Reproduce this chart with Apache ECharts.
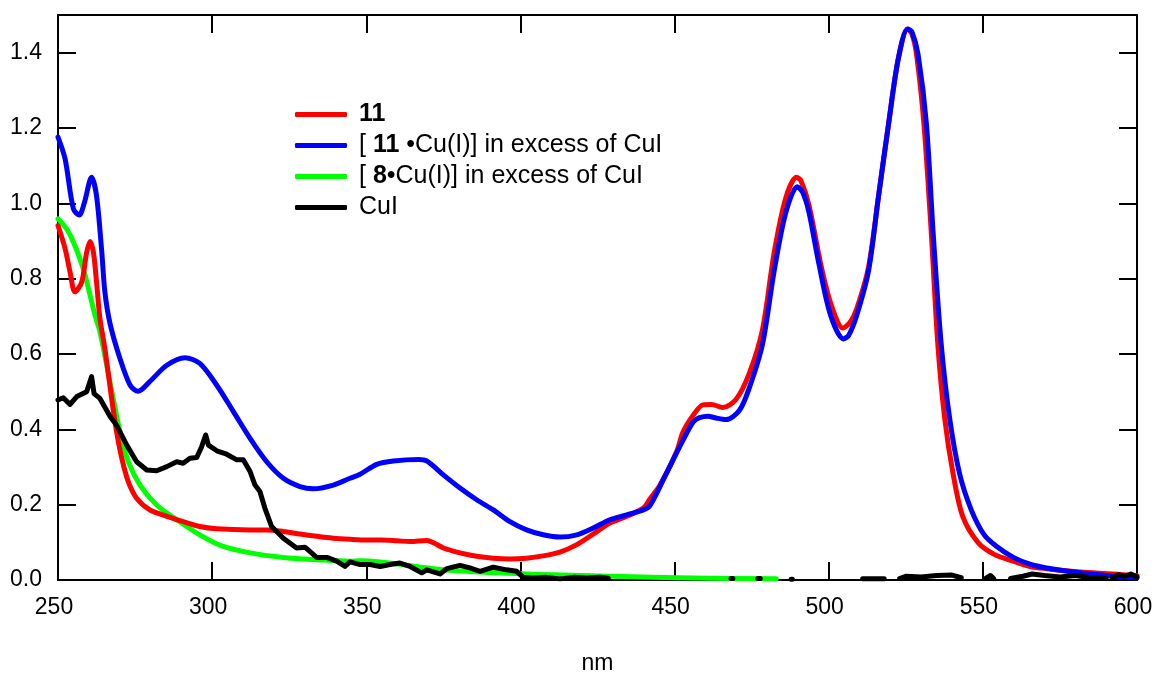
<!DOCTYPE html>
<html>
<head>
<meta charset="utf-8">
<script src="https://cdn.jsdelivr.net/npm/echarts@6/dist/echarts.min.js"></script>
<style>
html,body{margin:0;padding:0;background:#fff;}
#chart{width:1158px;height:680px;}
</style>
</head>
<body>
<div id="chart"></div>
<script>
// ---- data ----
const seriesNames = ['11', '[11 •Cu(I)] in excess of CuI', '[8•Cu(I)] in excess of CuI', 'CuI'];
const xTicks = [250, 300, 350, 400, 450, 500, 550, 600];
const yTicks = [0.0, 0.2, 0.4, 0.6, 0.8, 1.0, 1.2, 1.4];

const redNm = [250,252.3,253.9,255.5,257.7,259.3,260.4,261.5,262.6,263.6,265.2,267.4,269,270.7,272.8,275.5,279.8,285.3,290.6,296,301.5,312.3,317.7,323.1,328.5,333.9,339.3,344.7,350,355,360,364.2,369.6,372,375,380.4,385.8,391.2,396.6,402,407.4,412.8,418.3,423.6,429,434.5,439.9,442,445.3,450.7,452.7,456.1,459.2,462,465.6,469.9,474.2,478.5,482.3,486.1,489.6,491,493.6,497.9,501.1,504.6,507,509.2,512.9,516.1,519.4,522.6,525.6,527,528.5,530.9,533.3,535.4,537.6,540.3,543.5,548.4,553.7,559.9,565.3,570.7,581.5,592.3,600];
const redAbs = [0.941,0.880,0.818,0.765,0.791,0.870,0.899,0.870,0.782,0.694,0.615,0.482,0.394,0.323,0.261,0.217,0.186,0.169,0.155,0.142,0.136,0.133,0.133,0.129,0.122,0.116,0.111,0.108,0.106,0.106,0.104,0.102,0.105,0.098,0.085,0.072,0.063,0.058,0.056,0.058,0.064,0.074,0.094,0.122,0.151,0.169,0.191,0.215,0.252,0.341,0.392,0.438,0.465,0.466,0.458,0.479,0.548,0.664,0.869,1.015,1.069,1.060,0.995,0.820,0.723,0.669,0.685,0.723,0.830,1.015,1.210,1.385,1.463,1.450,1.395,1.210,0.918,0.625,0.431,0.284,0.168,0.100,0.068,0.050,0.036,0.030,0.021,0.016,0.011];

const blueNm = [250,252.3,255,256.9,258.5,260.9,262.5,264.2,265.2,266.9,270.1,273.4,276,279.8,285.3,291.2,296,301.5,306.9,312.3,317.7,323.1,328.5,332.8,339.3,344.7,348,353.4,358.8,366.9,369.6,375,380.4,385.8,391.2,396.6,402,407.4,412.8,418.3,423.6,429,434.5,439.9,442,447.4,452.8,456.1,458.1,460.8,463.5,466.7,471,474.2,478.5,482.3,486.1,489.8,491.5,493.6,496.8,500.6,504.8,506.5,509.1,512.9,516.1,519.4,522.6,525.6,527,529,531.7,533.9,536.5,539.2,542.4,546.2,550.5,554.5,559.9,565.3,570.7,581.5,592.3,600];
const blueAbs = [1.176,1.118,0.985,0.969,1.000,1.069,1.020,0.871,0.765,0.680,0.588,0.517,0.501,0.527,0.570,0.590,0.575,0.517,0.447,0.376,0.314,0.270,0.248,0.242,0.252,0.270,0.281,0.307,0.316,0.320,0.316,0.279,0.244,0.213,0.186,0.155,0.133,0.120,0.114,0.120,0.138,0.160,0.173,0.186,0.197,0.284,0.372,0.420,0.431,0.435,0.430,0.426,0.450,0.509,0.625,0.820,0.976,1.044,1.030,0.976,0.840,0.703,0.640,0.650,0.703,0.820,1.015,1.210,1.385,1.463,1.455,1.395,1.210,0.918,0.625,0.431,0.284,0.187,0.119,0.089,0.060,0.042,0.032,0.019,0.010,0.005];

const greenNm = [250,252.8,255,257.1,258.8,260.4,262,263.6,265.8,267.9,270.1,272.8,276.6,282,288.5,296,303.6,312.3,323.1,333.9,344.7,348,375,402,429,456,483];
const greenAbs = [0.959,0.932,0.897,0.853,0.809,0.756,0.703,0.659,0.570,0.482,0.394,0.314,0.252,0.199,0.160,0.120,0.089,0.072,0.060,0.054,0.050,0.051,0.027,0.016,0.010,0.005,0.003];

const blackNm = [250,251.7,253.9,256.1,259.3,260.9,261.7,263.6,266.9,269,272.3,275.5,278.8,282,285.3,288.5,290.6,292.8,295,296.6,297.9,298.8,301.5,304.7,308,310.1,312.3,313.9,315.5,317.1,319.3,323.1,327.4,330.1,333.9,337.2,340.4,343.1,344.7,348,351.2,354.5,357.7,360.9,364.2,368,369.6,373.9,376.1,380.4,383.6,386.9,391.2,395.5,398.8,400.9,404.1,408.5,412.8,417.2,421.5,425.8,428.5,
  429, 468.3,468.9, 469, 477,477.8, 478, 487.8,488.2, 489, 511,514,515,518, 519, 523,525,530,535,540,543, 544, 551,552.5,553.5, 554, 559,563,566,570,575,580,585,590, 591, 592,594,596,598,600];
const blackAbs = [0.478,0.484,0.466,0.487,0.500,0.540,0.495,0.482,0.434,0.411,0.358,0.314,0.292,0.290,0.301,0.314,0.310,0.323,0.325,0.354,0.385,0.358,0.343,0.334,0.319,0.319,0.288,0.252,0.235,0.191,0.142,0.111,0.085,0.087,0.060,0.060,0.050,0.036,0.048,0.041,0.041,0.036,0.041,0.045,0.036,0.019,0.027,0.016,0.030,0.039,0.032,0.023,0.034,0.027,0.023,0.007,0.005,0.007,0.003,0.007,0.005,0.007,0.005,
  null, 0.004,0.004, null, 0.004,0.004, null, 0.002,0.002, null, 0.003,0.003,0.003,0.003, null, 0.004,0.010,0.008,0.012,0.013,0.006, null, 0.005,0.012,0.004, null, 0.004,0.010,0.016,0.012,0.008,0.012,0.006,0.004, null, 0.006,0.014,0.010,0.016,0.008];

// ---- build ----
function pairs(xs, ys){ return xs.map((x,i)=>[x, ys[i]]); }
const FONT = '"Liberation Sans", Arial, sans-serif';
const chart = echarts.init(document.getElementById('chart'), null, {renderer:'canvas'});

const axisCommon = {
  type: 'value',
  axisLine: {show: true, onZero: false, lineStyle: {color: '#000', width: 2}},
  axisTick: {show: true, inside: true, length: 18, lineStyle: {color: '#000', width: 2}},
  splitLine: {show: false}
};

const option = {
  backgroundColor: '#fff',
  animation: false,
  grid: {left: 58, right: 21, top: 15, bottom: 98, containLabel: false},
  legend: {
    orient: 'vertical',
    left: 290,
    top: 94,
    itemWidth: 52,
    itemHeight: 5,
    itemGap: 0,
    icon: 'roundRect',
    data: seriesNames,
    textStyle: {
      fontFamily: FONT, fontSize: 25, color: '#000', lineHeight: 31,
      padding: [0, 0, 0, 7],
      rich: {
        n: {fontFamily: FONT, fontSize: 25, color: '#000', lineHeight: 31},
        b: {fontFamily: FONT, fontSize: 25, fontWeight: 'bold', color: '#000', lineHeight: 31}
      }
    },
    formatter: function(name){
      if (name === seriesNames[0]) return '{b|11}';
      if (name === seriesNames[1]) return '{n|[ }{b|11}{n| •Cu(I)] in excess of CuI}';
      if (name === seriesNames[2]) return '{n|[ }{b|8}{n|•Cu(I)] in excess of CuI}';
      return '{n|CuI}';
    }
  },
  xAxis: [
    Object.assign({}, axisCommon, {
      min: 250, max: 600, interval: 50, position: 'bottom',
      name: 'nm', nameLocation: 'middle', nameGap: 72,
      nameTextStyle: {fontFamily: FONT, fontSize: 23, color: '#000'},
      axisLabel: {show: true, margin: 16, fontFamily: FONT, fontSize: 23, color: '#000',
        padding: [0, 8, 0, 0],
        formatter: v => xTicks.includes(v) ? String(v) : ''}
    }),
    Object.assign({}, axisCommon, {
      min: 250, max: 600, interval: 50, position: 'top',
      axisLabel: {show: false}
    })
  ],
  yAxis: [
    Object.assign({}, axisCommon, {
      min: 0, max: 1.5, interval: 0.2, position: 'left',
      axisLabel: {show: true, margin: 16, fontFamily: FONT, fontSize: 23, color: '#000', showMaxLabel: false,
        formatter: v => yTicks.some(t => Math.abs(t - v) < 1e-6) ? v.toFixed(1) : ''}
    }),
    Object.assign({}, axisCommon, {
      min: 0, max: 1.5, interval: 0.2, position: 'right',
      axisLabel: {show: false}
    })
  ],
  series: [
    {name: seriesNames[0], type: 'line', data: pairs(redNm, redAbs), showSymbol: false, smooth: 0.3, z: 3,
      color: '#ff0000', lineStyle: {color: '#ff0000', width: 5, cap: 'round', join: 'round'}, clip: false},
    {name: seriesNames[1], type: 'line', data: pairs(blueNm, blueAbs), showSymbol: false, smooth: 0.3, z: 4,
      color: '#0000ff', lineStyle: {color: '#0000ff', width: 5, cap: 'round', join: 'round'}, clip: false},
    {name: seriesNames[2], type: 'line', data: pairs(greenNm, greenAbs), showSymbol: false, smooth: 0.3, z: 2,
      color: '#00ff00', lineStyle: {color: '#00ff00', width: 5, cap: 'round', join: 'round'}, clip: false},
    {name: seriesNames[3], type: 'line', data: pairs(blackNm, blackAbs), showSymbol: false, smooth: false, z: 5,
      connectNulls: false,
      color: '#000000', lineStyle: {color: '#000000', width: 5, cap: 'round', join: 'round'}, clip: false}
  ]
};
chart.setOption(option);
</script>
</body>
</html>
